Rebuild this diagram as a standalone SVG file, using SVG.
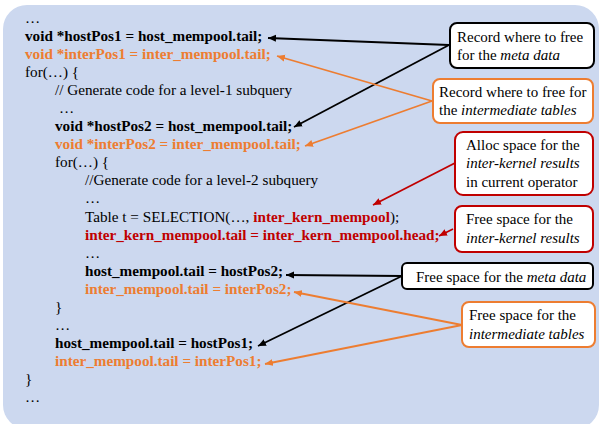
<svg xmlns="http://www.w3.org/2000/svg" width="600" height="424" viewBox="0 0 600 424">
<defs>
<style>
.code{font-family:"Liberation Serif","Times New Roman",serif;font-size:15.2px;fill:#000}
.b{font-weight:bold}
.o{fill:#ed7d31}
.r{fill:#c00000}
.note{font-family:"Liberation Serif","Times New Roman",serif;font-size:15px;fill:#000}
.box{fill:#fff;stroke-width:2}
.k{stroke:#000}
.ko{stroke:#ed7d31}
.kr{stroke:#c00000}
.ln{fill:none;stroke-width:1.8}
</style>
<marker id="ak" markerUnits="userSpaceOnUse" markerWidth="10" markerHeight="8" refX="8" refY="4" orient="auto"><path d="M0,0.5 L8,4 L0,7.5 z" fill="#000"/></marker>
<marker id="ao" markerUnits="userSpaceOnUse" markerWidth="10" markerHeight="8" refX="8" refY="4" orient="auto"><path d="M0,0.5 L8,4 L0,7.5 z" fill="#ed7d31"/></marker>
<marker id="ar" markerUnits="userSpaceOnUse" markerWidth="10" markerHeight="8" refX="8" refY="4" orient="auto"><path d="M0,0.5 L8,4 L0,7.5 z" fill="#c00000"/></marker>
</defs>
<rect x="3" y="5" width="596" height="424" rx="24" fill="#ccd8ef"/>
<g id="code" class="code" font-family="Liberation Serif, Times New Roman, serif">
<text x="25" y="23">…</text>
<text x="25" y="41" class="b">void *hostPos1 = host_mempool.tail;</text>
<text x="25" y="59" class="b o">void *interPos1 = inter_mempool.tail;</text>
<text x="25" y="77">for(…) {</text>
<text x="55" y="95">// Generate code for a level-1 subquery</text>
<text x="59" y="113">…</text>
<text x="55" y="131" class="b">void *hostPos2 = host_mempool.tail;</text>
<text x="55" y="149" class="b o">void *interPos2 = inter_mempool.tail;</text>
<text x="55" y="167">for(…) {</text>
<text x="85" y="185">//Generate code for a level-2 subquery</text>
<text x="85" y="203">…</text>
<text x="85" y="222">Table t = SELECTION(…, <tspan class="b r">inter_kern_mempool</tspan>);</text>
<text x="85" y="240" class="b r">inter_kern_mempool.tail = inter_kern_mempool.head;</text>
<text x="85" y="258">…</text>
<text x="85" y="276" class="b">host_mempool.tail = hostPos2;</text>
<text x="85" y="294" class="b o">inter_mempool.tail = interPos2;</text>
<text x="55" y="312">}</text>
<text x="55" y="330">…</text>
<text x="55" y="348" class="b">host_mempool.tail = hostPos1;</text>
<text x="55" y="366" class="b o">inter_mempool.tail = interPos1;</text>
<text x="25" y="384">}</text>
<text x="25" y="402">…</text>
</g>
<g id="connectors">
<line class="ln k" x1="449" y1="45" x2="268" y2="38" marker-end="url(#ak)"/>
<line class="ln k" x1="449" y1="45" x2="294" y2="127" marker-end="url(#ak)"/>
<line class="ln ko" x1="432" y1="101" x2="277" y2="56" marker-end="url(#ao)"/>
<line class="ln ko" x1="432" y1="101" x2="305" y2="146" marker-end="url(#ao)"/>
<line class="ln kr" x1="455" y1="163" x2="373" y2="205" marker-end="url(#ar)"/>
<line class="ln kr" x1="453" y1="229" x2="439" y2="236" marker-end="url(#ar)"/>
<line class="ln k" x1="402" y1="276" x2="286" y2="275" marker-end="url(#ak)"/>
<line class="ln k" x1="402" y1="276" x2="258" y2="346" marker-end="url(#ak)"/>
<line class="ln ko" x1="462" y1="325" x2="294" y2="292" marker-end="url(#ao)"/>
<line class="ln ko" x1="462" y1="325" x2="265" y2="364" marker-end="url(#ao)"/>
</g>
<g font-family="Liberation Serif, Times New Roman, serif">
<g id="n1"><rect class="box k" x="450" y="23" width="144" height="45" rx="7"/><text class="note" x="457" y="42">Record where to free</text><text class="note" x="457" y="60">for the <tspan font-style="italic">meta data</tspan></text></g>
<g id="n2"><rect class="box ko" x="433" y="79" width="160" height="44" rx="7"/><text class="note" x="439" y="97">Record where to free for</text><text class="note" x="439" y="115">the <tspan font-style="italic">intermediate tables</tspan></text></g>
<g id="n3"><rect class="box kr" x="455" y="132" width="138" height="63" rx="8"/><text class="note" x="466" y="150">Alloc space for the</text><text class="note" x="466" y="168" font-style="italic">inter-kernel results</text><text class="note" x="466" y="187">in current operator</text></g>
<g id="n4"><rect class="box kr" x="455" y="206" width="138" height="46" rx="7"/><text class="note" x="466" y="224">Free space for the</text><text class="note" x="466" y="243" font-style="italic">inter-kernel results</text></g>
<g id="n5"><rect class="box k" x="402" y="263" width="191" height="26" rx="5"/><text class="note" x="416" y="282">Free space for the <tspan font-style="italic">meta data</tspan></text></g>
<g id="n6"><rect class="box ko" x="462" y="302" width="133" height="45" rx="7"/><text class="note" x="469" y="320">Free space for the</text><text class="note" x="469" y="339" font-style="italic">intermediate tables</text></g>
</g>
</svg>
